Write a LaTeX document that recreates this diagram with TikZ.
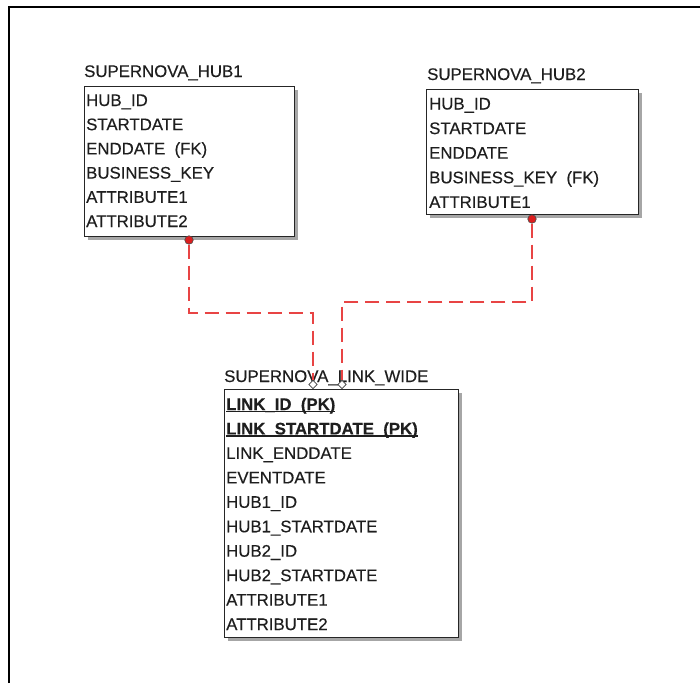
\documentclass[tikz,border=0pt]{standalone}
\usepackage{fontspec}
\setmainfont{Liberation Sans}[FakeBold=0.35]
\usetikzlibrary{shapes.geometric,shadows}
\definecolor{relred}{RGB}{232,68,68}
\definecolor{dotred}{RGB}{220,30,30}
\definecolor{txt}{RGB}{30,30,30}
\newcommand\pkul[1]{\setbox0\hbox{#1}\rlap{\rule[-2.2pt]{\wd0}{1.3pt}}\box0}
\tikzset{
  tbl/.style={draw=black!85, line width=1.2pt, fill=white, anchor=north west, inner sep=0pt,
    drop shadow={shadow xshift=3pt, shadow yshift=-3pt, fill=black!35, opacity=1}},
  fld/.style={anchor=base west, inner sep=0pt, text=txt, font=\fontsize{16.8}{20}\selectfont},
  ttl/.style={fld},
  rel/.style={draw=relred, line width=1.5pt, dash pattern=on 14pt off 7pt},
  fkdot/.style={circle, fill=dotred, draw=black!70, line width=0.6pt, minimum size=8.5pt, inner sep=0pt},
  pkdia/.style={diamond, draw=black!75, fill=white, line width=0.7pt, minimum width=8.5pt, minimum height=8.5pt, inner sep=0pt}
}
\begin{document}
\begin{tikzpicture}[x=1pt,y=-1pt]
\useasboundingbox (0,0) rectangle (700,683);
% frame
\coordinate (fbl) at (9,683);
\coordinate (ftl) at (9,7);
\coordinate (ftr) at (700,7);
\draw[line width=2pt] (fbl) -- (ftl) -- (ftr);

% HUB1
\node[ttl] (t1) at (84,77) {SUPERNOVA\_HUB1};
\node[tbl, minimum width=210pt, minimum height=150pt] (hub1) at (84,86) {};
\foreach \t [count=\i] in {HUB\_ID, STARTDATE, {ENDDATE\ \ (FK)}, BUSINESS\_KEY, ATTRIBUTE1, ATTRIBUTE2}
  \node[fld] (h1r\i) at (86,{106+24.2*(\i-1)}) {\t};

% HUB2
\node[ttl] (t2) at (427,80) {SUPERNOVA\_HUB2};
\node[tbl, minimum width=212pt, minimum height=125pt] (hub2) at (426,89) {};
\foreach \t [count=\i] in {HUB\_ID, STARTDATE, ENDDATE, {BUSINESS\_KEY\ \ (FK)}, ATTRIBUTE1}
  \node[fld] (h2r\i) at (429,{109.5+24.6*(\i-1)}) {\t};

% LINK
\node[ttl] (t3) at (224,382) {SUPERNOVA\_LINK\_WIDE};
\node[tbl, minimum width=234pt, minimum height=248pt] (link) at (224,389) {};
\node[fld] (lr1) at (226,410) {\pkul{\bfseries LINK\_ID\ \ (PK)}};
\node[fld] (lr2) at (226,434.45) {\pkul{\bfseries LINK\_STARTDATE\ \ (PK)}};
\foreach \t [count=\i from 3] in {LINK\_ENDDATE, EVENTDATE, HUB1\_ID, HUB1\_STARTDATE, HUB2\_ID, HUB2\_STARTDATE, ATTRIBUTE1, ATTRIBUTE2}
  \node[fld] (lr\i) at (226,{410+24.45*(\i-1)}) {\t};

% relationship ends
\node[fkdot] (dot1) at (189,240) {};
\node[fkdot] (dot2) at (532,219) {};
\node[pkdia] (d1) at (313,384.5) {};
\node[pkdia] (d2) at (342,384.5) {};
\coordinate (b1) at (313,313);
\coordinate (b2) at (342,302);
\draw[rel] (dot1.south) |- (b1) -- (d1.north);
\draw[rel] (dot2.south) |- (b2) -- (d2.north);
\end{tikzpicture}
\end{document}
